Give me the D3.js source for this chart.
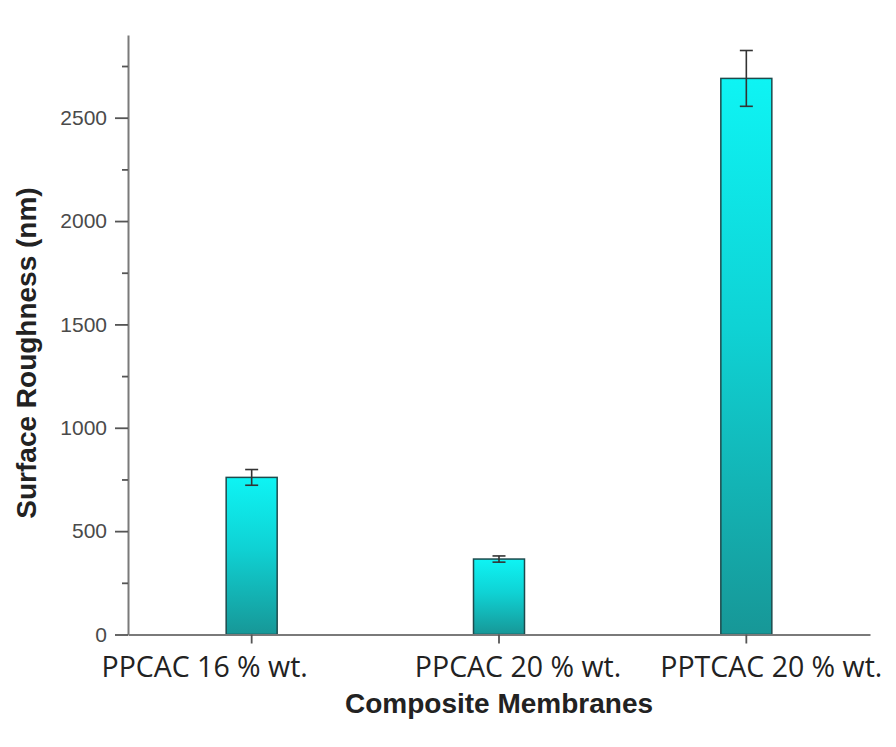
<!DOCTYPE html>
<html>
<head>
<meta charset="utf-8">
<script src="https://cdn.jsdelivr.net/npm/d3@7"></script>
<style>
  html, body { margin: 0; padding: 0; background: #fff; }
  svg { display: block; }
</style>
</head>
<body>
<svg id="chart" width="896" height="747"></svg>
<script>
// Surface roughness of the composite membranes (nm), mean ± error
const categories = ["PPCAC 16 % wt.", "PPCAC 20 % wt.", "PPTCAC 20 % wt."];
const roughness = [760, 365, 2690];
const roughnessErr = [38, 15, 135];
const yTicks = [0, 500, 1000, 1500, 2000, 2500];
const yMinorTicks = [250, 750, 1250, 1750, 2250, 2750];

const svg = d3.select("#chart");
const plot = { left: 128, right: 870, top: 35, bottom: 634.5 };

const x = d3.scaleBand().domain(categories).range([plot.left, plot.right]).padding(0);
const y = d3.scaleLinear().domain([0, 2900]).range([plot.bottom, plot.top]);
const barW = 51;

// vertical cyan → teal fill for each bar
const defs = svg.append("defs");
const grad = defs.append("linearGradient")
  .attr("id", "barFill").attr("x1", 0).attr("y1", 0).attr("x2", 0).attr("y2", 1);
grad.append("stop").attr("offset", "0%").attr("stop-color", "#0ef4f4");
grad.append("stop").attr("offset", "45%").attr("stop-color", "#0fd2d4");
grad.append("stop").attr("offset", "100%").attr("stop-color", "#179797");

const axisColor = "#7a7a7a";

// bars
svg.append("g").selectAll("rect")
  .data(categories)
  .join("rect")
  .attr("x", (d) => x(d) + x.bandwidth() / 2 - barW / 2)
  .attr("y", (d, i) => y(roughness[i]))
  .attr("width", barW)
  .attr("height", (d, i) => y(0) - y(roughness[i]))
  .attr("fill", "url(#barFill)")
  .attr("stroke", "#1d4a4c")
  .attr("stroke-width", 1.5);

// error bars
const err = svg.append("g").attr("stroke", "#333").attr("stroke-width", 1.6);
categories.forEach((c, i) => {
  const cx = x(c) + x.bandwidth() / 2;
  const hi = y(roughness[i] + roughnessErr[i]);
  const lo = y(roughness[i] - roughnessErr[i]);
  const cap = 6.5;
  err.append("line").attr("x1", cx).attr("x2", cx).attr("y1", hi).attr("y2", lo);
  err.append("line").attr("x1", cx - cap).attr("x2", cx + cap).attr("y1", hi).attr("y2", hi);
  err.append("line").attr("x1", cx - cap).attr("x2", cx + cap).attr("y1", lo).attr("y2", lo);
});

// y axis: major ticks with labels, minor ticks without
const yAxis = svg.append("g")
  .attr("transform", `translate(${plot.left},0)`)
  .call(d3.axisLeft(y).tickValues(yTicks).tickFormat(d3.format("d"))
    .tickSize(13).tickPadding(8).tickSizeOuter(0));
yAxis.select(".domain").attr("stroke", axisColor).attr("stroke-width", 2);
yAxis.selectAll(".tick line").attr("stroke", "#555").attr("stroke-width", 1.8);
yAxis.selectAll(".tick text")
  .attr("font-family", "'Liberation Sans', Arial, sans-serif")
  .attr("font-size", 21).attr("fill", "#4a4a4a");

const yMinor = svg.append("g")
  .attr("transform", `translate(${plot.left},0)`)
  .call(d3.axisLeft(y).tickValues(yMinorTicks).tickSize(6).tickFormat(""));
yMinor.select(".domain").remove();
yMinor.selectAll(".tick line").attr("stroke", "#555").attr("stroke-width", 1.8);

// x axis
const xAxis = svg.append("g")
  .attr("transform", `translate(0,${plot.bottom})`)
  .call(d3.axisBottom(x).tickSize(9).tickSizeOuter(0).tickFormat(""));
xAxis.select(".domain").attr("stroke", axisColor).attr("stroke-width", 2);
xAxis.selectAll(".tick line").attr("stroke", "#555").attr("stroke-width", 1.8);

// category labels (set slightly off the tick centres)
const labelShift = [-47, 19, 25];
svg.append("g").selectAll("text")
  .data(categories)
  .join("text")
  .attr("x", (d, i) => x(d) + x.bandwidth() / 2 + labelShift[i])
  .attr("y", 677)
  .attr("text-anchor", "middle")
  .attr("font-family", "'Open Sans', sans-serif")
  .attr("font-size", 28.5)
  .attr("fill", "#222")
  .text((d) => d);

// axis titles
svg.append("text")
  .attr("x", x(categories[1]) + x.bandwidth() / 2)
  .attr("y", 713)
  .attr("text-anchor", "middle")
  .attr("font-family", "'Liberation Sans', Arial, sans-serif")
  .attr("font-weight", "bold")
  .attr("font-size", 28)
  .attr("fill", "#222")
  .text("Composite Membranes");

svg.append("text")
  .attr("transform", "translate(36,353) rotate(-90)")
  .attr("text-anchor", "middle")
  .attr("font-family", "'Liberation Sans', Arial, sans-serif")
  .attr("font-weight", "bold")
  .attr("font-size", 28)
  .attr("fill", "#222")
  .text("Surface Roughness (nm)");
</script>
</body>
</html>
